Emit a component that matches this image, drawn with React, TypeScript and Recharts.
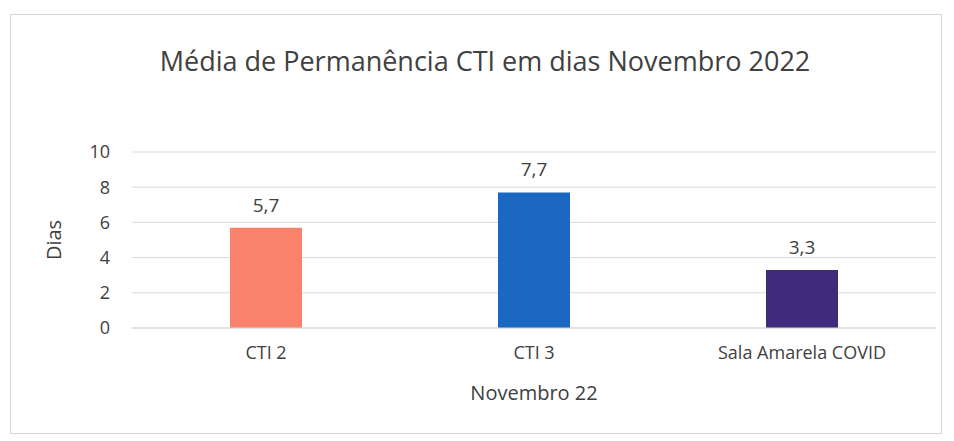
import React from "react";
import { BarChart, Bar, XAxis, YAxis, CartesianGrid, LabelList, Cell, Label } from "recharts";

const categories = ["CTI 2", "CTI 3", "Sala Amarela COVID"];
const values = [5.7, 7.7, 3.3];
const colors = ["#F8826C", "#1B68C2", "#3E2B7C"];
const yTicks = [0, 2, 4, 6, 8, 10];

const data = categories.map((c, i) => ({ name: c, value: values[i] }));

const FONT = "'Open Sans', Lato, sans-serif";
const TEXT = "#404040";

export default function App() {
  return (
    <div style={{ position: "absolute", left: 0, top: 0, width: 954, height: 441, background: "#fff", fontFamily: FONT }}>
      <div style={{ position: "absolute", left: 10, top: 14, width: 932, height: 420, border: "1px solid #d6d6d6", boxSizing: "border-box" }} />
      <div style={{ position: "absolute", left: 0, top: 42, width: 970, textAlign: "center", fontSize: 27, color: TEXT }}>
        Média de Permanência CTI em dias Novembro 2022
      </div>
      <div style={{ position: "absolute", left: 0, top: 0 }}>
        <BarChart width={954} height={441} data={data} margin={{ top: 152, right: 18, bottom: 25, left: 42 }} barSize={72}>
          <CartesianGrid vertical={false} stroke="#d9d9d9" />
          <XAxis
            dataKey="name"
            axisLine={{ stroke: "#d9d9d9" }}
            tickLine={false}
            tick={{ fill: TEXT, fontSize: 18, fontFamily: FONT }}
            tickMargin={12}
            height={88}
          >
            <Label value="Novembro 22" position="insideBottom" offset={16} style={{ fill: TEXT, fontSize: 20, fontFamily: FONT }} />
          </XAxis>
          <YAxis
            domain={[0, 10]}
            ticks={yTicks}
            axisLine={false}
            tickLine={false}
            tick={{ fill: TEXT, fontSize: 18, fontFamily: FONT }}
            tickMargin={16}
            width={90}
          >
            <Label value="Dias" angle={-90} position="insideLeft" offset={12} style={{ fill: TEXT, fontSize: 20, fontFamily: FONT, textAnchor: "middle" }} />
          </YAxis>
          <Bar dataKey="value" isAnimationActive={false}>
            {data.map((d, i) => (
              <Cell key={d.name} fill={colors[i]} />
            ))}
            <LabelList
              dataKey="value"
              position="top"
              offset={16}
              formatter={(v: number) => v.toFixed(1).replace(".", ",")}
              style={{ fill: TEXT, fontSize: 19, fontFamily: FONT }}
            />
          </Bar>
        </BarChart>
      </div>
    </div>
  );
}
